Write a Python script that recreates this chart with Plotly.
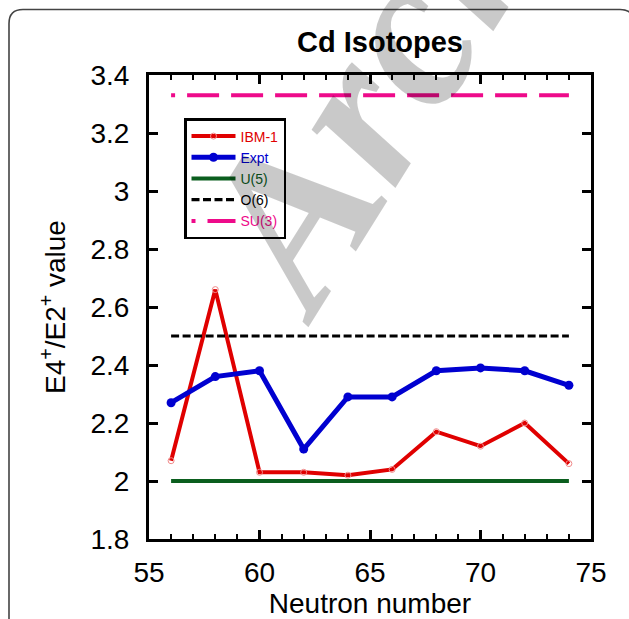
import plotly.graph_objects as go

neutrons = [56, 58, 60, 62, 64, 66, 68, 70, 72, 74]
ibm1 = [2.07, 2.66, 2.03, 2.03, 2.02, 2.04, 2.17, 2.12, 2.20, 2.06]
expt = [2.27, 2.36, 2.38, 2.11, 2.29, 2.29, 2.38, 2.39, 2.38, 2.33]
limit_x = [56, 74]
u5 = [2.0, 2.0]
o6 = [2.5, 2.5]
su3 = [3.33, 3.33]

RED = "#e00000"
BLUE = "#0000d0"
GREEN = "#0b5e1e"
PINK = "#ee0a8a"
FONT = "Liberation Sans, Arial, Helvetica, sans-serif"

fig = go.Figure()
fig.add_trace(go.Scatter(x=neutrons, y=ibm1, mode="lines+markers",
                         name=f"<span style='color:{RED}'>IBM-1</span>",
                         line=dict(color=RED, width=4),
                         marker=dict(symbol="circle-open", size=6, color="#f08a8a", line=dict(width=1))))
fig.add_trace(go.Scatter(x=neutrons, y=expt, mode="lines+markers",
                         name=f"<span style='color:{BLUE}'>Expt</span>",
                         line=dict(color=BLUE, width=5),
                         marker=dict(symbol="circle", size=9, color=BLUE)))
fig.add_trace(go.Scatter(x=limit_x, y=u5, mode="lines",
                         name=f"<span style='color:{GREEN}'>U(5)</span>",
                         line=dict(color=GREEN, width=4)))
fig.add_trace(go.Scatter(x=limit_x, y=o6, mode="lines",
                         name="<span style='color:black'>O(6)</span>",
                         line=dict(color="black", width=3.2, dash="8px,3.5px")))
fig.add_trace(go.Scatter(x=limit_x, y=su3, mode="lines",
                         name=f"<span style='color:{PINK}'>SU(3)</span>",
                         line=dict(color=PINK, width=4, dash="4px,12px,28px,0px")))

# page-pixel -> paper coordinates helpers (plot area 149..591 x 75..539)
L, R, T, B = 149, 591, 75, 539
def px(x):
    return (x - L) / (R - L)
def py(y):
    return (B - y) / (B - T)

# outer rounded frame
fl, ft, fr, fb = px(9), py(9.5), px(634), py(660)
rx, ry = 14 / (R - L), 14 / (B - T)
path = (f"M{fl},{fb} L{fl},{ft - ry} Q{fl},{ft} {fl + rx},{ft} "
        f"L{fr - rx},{ft} Q{fr},{ft} {fr},{ft - ry} L{fr},{fb}")
fig.add_shape(type="path", path=path, xref="paper", yref="paper",
              line=dict(color="#444444", width=1.6), layer="above")

# watermark
fig.add_annotation(text="<b><i>Archive</i></b>", x=px(437), y=py(-20), xref="paper", yref="paper",
                   showarrow=False, textangle=-58, xanchor="center", yanchor="middle",
                   font=dict(family="Liberation Serif, Times New Roman, serif", size=222,
                             color="rgba(0,0,0,0.21)"))

fig.update_layout(
    width=629, height=619,
    margin=dict(l=L, r=629 - R, t=T, b=619 - B),
    paper_bgcolor="white", plot_bgcolor="white",
    font=dict(family=FONT, color="black", size=28),
    title=dict(text="<b>Cd Isotopes</b>", x=px(380), xref="paper", xanchor="center",
               y=1 - 42 / 619, yref="container", yanchor="middle",
               font=dict(size=29, family=FONT, color="black")),
    showlegend=True,
    legend=dict(x=px(184), y=py(118), xanchor="left", yanchor="top",
                bordercolor="black", borderwidth=2.5, bgcolor="white",
                font=dict(size=14, family=FONT), tracegroupgap=0, itemwidth=44),
)
fig.update_xaxes(range=[55, 75], dtick=5, tick0=55, ticks="inside", ticklen=9, tickwidth=2.5,
                 tickcolor="black", showline=True, linewidth=3, linecolor="black", mirror="ticks",
                 showgrid=False, zeroline=False, ticklabelstandoff=6, automargin=False,
                 tickfont=dict(size=28, family=FONT),
                 minor=dict(dtick=1, ticks="inside", ticklen=5, tickwidth=2, tickcolor="black", showgrid=False),
                 title=dict(text="Neutron number", font=dict(size=28, family=FONT), standoff=2))
fig.update_yaxes(range=[1.8, 3.4], dtick=0.2, tick0=1.8, ticks="inside", ticklen=9, tickwidth=2.5,
                 tickcolor="black", showline=True, linewidth=3, linecolor="black", mirror="ticks",
                 showgrid=False, zeroline=False, ticklabelstandoff=11, automargin=False,
                 tickfont=dict(size=28, family=FONT),
                 title=dict(text="E4<sup>+</sup>/E2<sup>+</sup> value", font=dict(size=28, family=FONT), standoff=17))

fig.write_html("out.html", config={"displayModeBar": False},
               post_script="document.body.style.margin='0';")
